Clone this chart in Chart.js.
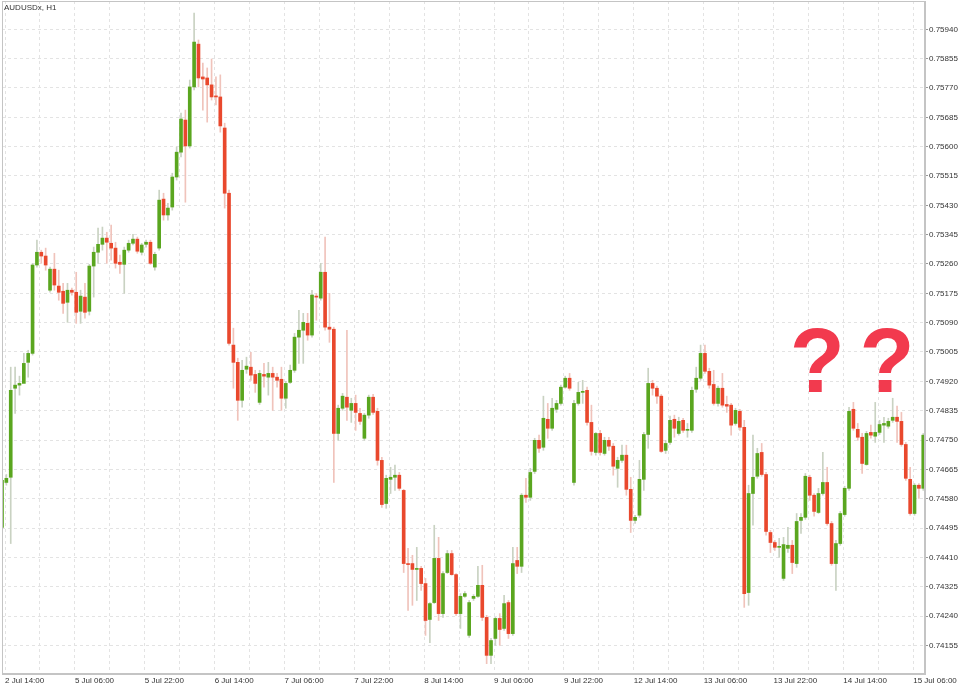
<!DOCTYPE html>
<html>
<head>
<meta charset="utf-8">
<script src="https://cdn.jsdelivr.net/npm/chart.js@4.4.1/dist/chart.umd.min.js"></script>
<style>
  html, body { margin: 0; padding: 0; background: #fff; }
  #chart { display: block; }
</style>
</head>
<body>
<canvas id="chart" width="960" height="686"></canvas>
<script>
// AUDUSDx, H1 - one entry per hourly bar
const tickLabels = ["2 Jul 14:00", "5 Jul 06:00", "5 Jul 22:00", "6 Jul 14:00", "7 Jul 06:00", "7 Jul 22:00",
  "8 Jul 14:00", "9 Jul 06:00", "9 Jul 22:00", "12 Jul 14:00", "13 Jul 06:00", "13 Jul 22:00",
  "14 Jul 14:00", "15 Jul 06:00"];

const priceLabels = [0.74155, 0.74240, 0.74325, 0.74410, 0.74495, 0.74580, 0.74665, 0.74750, 0.74835,
  0.74920, 0.75005, 0.75090, 0.75175, 0.75260, 0.75345, 0.75430, 0.75515, 0.75600, 0.75685, 0.75770,
  0.75855, 0.75940];

const opens = [
  0.74497, 0.74627, 0.74642, 0.74900, 0.74909, 0.74914, 0.74975, 0.75001, 0.75257, 0.75294,
  0.75283, 0.75184, 0.75245, 0.75196, 0.75181, 0.75149, 0.75184, 0.75178, 0.75123, 0.75164,
  0.75123, 0.75254, 0.75294, 0.75317, 0.75335, 0.75320, 0.75306, 0.75265, 0.75259, 0.75300,
  0.75320, 0.75332, 0.75294, 0.75317, 0.75323, 0.75251, 0.75306, 0.75448, 0.75402, 0.75425,
  0.75512, 0.75584, 0.75677, 0.75602, 0.75773, 0.75897, 0.75802, 0.75799, 0.75779, 0.75747,
  0.75744, 0.75654, 0.75465, 0.75025, 0.74975, 0.74865, 0.74955, 0.74961, 0.74940, 0.74859,
  0.74940, 0.74932, 0.74943, 0.74932, 0.74926, 0.74871, 0.74917, 0.74952, 0.75048, 0.75068,
  0.75088, 0.75054, 0.75167, 0.75161, 0.75236, 0.75077, 0.75071, 0.74769, 0.74842, 0.74874,
  0.74836, 0.74856, 0.74827, 0.74755, 0.74822, 0.74874, 0.74833, 0.74691, 0.74566, 0.74636,
  0.74642, 0.74648, 0.74604, 0.74392, 0.74392, 0.74375, 0.74378, 0.74334, 0.74230, 0.74279,
  0.74407, 0.74247, 0.74366, 0.74421, 0.74360, 0.74247, 0.74297, 0.74184, 0.74291, 0.74297,
  0.74329, 0.74236, 0.74126, 0.74175, 0.74233, 0.74204, 0.74279, 0.74189, 0.74401, 0.74384,
  0.74590, 0.74584, 0.74659, 0.74749, 0.74729, 0.74810, 0.74784, 0.74839, 0.74856, 0.74903,
  0.74929, 0.74627, 0.74856, 0.74888, 0.74894, 0.74801, 0.74714, 0.74769, 0.74711, 0.74749,
  0.74732, 0.74668, 0.74691, 0.74706, 0.74607, 0.74517, 0.74532, 0.74636, 0.74766, 0.74914,
  0.74900, 0.74877, 0.74720, 0.74743, 0.74810, 0.74769, 0.74807, 0.74778, 0.74778, 0.74897,
  0.74929, 0.75001, 0.74949, 0.74911, 0.74856, 0.74900, 0.74853, 0.74851, 0.74798, 0.74833,
  0.74787, 0.74308, 0.74595, 0.74645, 0.74714, 0.74650, 0.74482, 0.74453, 0.74439, 0.74349,
  0.74436, 0.74445, 0.74392, 0.74517, 0.74526, 0.74642, 0.74590, 0.74540, 0.74595, 0.74627,
  0.74508, 0.74392, 0.74450, 0.74534, 0.74610, 0.74839, 0.74781, 0.74758, 0.74679, 0.74772,
  0.74761, 0.74772, 0.74793, 0.74790, 0.74807, 0.74816, 0.74804, 0.74737, 0.74636, 0.74537,
  0.74619, 0.74610
];

const highs = [
  0.74645, 0.74650, 0.74961, 0.74961, 0.74935, 0.75001, 0.75010, 0.75262, 0.75329, 0.75300,
  0.75306, 0.75251, 0.75291, 0.75242, 0.75204, 0.75204, 0.75190, 0.75236, 0.75184, 0.75204,
  0.75259, 0.75309, 0.75364, 0.75367, 0.75352, 0.75373, 0.75323, 0.75286, 0.75309, 0.75329,
  0.75346, 0.75338, 0.75320, 0.75329, 0.75329, 0.75294, 0.75474, 0.75465, 0.75436, 0.75523,
  0.75599, 0.75697, 0.75706, 0.75793, 0.75987, 0.75909, 0.75842, 0.75828, 0.75854, 0.75802,
  0.75808, 0.75668, 0.75474, 0.75074, 0.74987, 0.74981, 0.74990, 0.75004, 0.74952, 0.74952,
  0.74972, 0.74975, 0.74961, 0.74943, 0.74961, 0.74920, 0.74967, 0.75059, 0.75126, 0.75117,
  0.75117, 0.75184, 0.75175, 0.75262, 0.75338, 0.75175, 0.75077, 0.74851, 0.74885, 0.75068,
  0.74871, 0.74880, 0.74842, 0.74827, 0.74880, 0.74882, 0.74842, 0.74700, 0.74648, 0.74671,
  0.74677, 0.74656, 0.74607, 0.74436, 0.74416, 0.74439, 0.74384, 0.74349, 0.74279, 0.74503,
  0.74468, 0.74369, 0.74430, 0.74430, 0.74363, 0.74305, 0.74311, 0.74285, 0.74302, 0.74384,
  0.74387, 0.74242, 0.74175, 0.74236, 0.74247, 0.74300, 0.74285, 0.74439, 0.74439, 0.74595,
  0.74639, 0.74668, 0.74755, 0.74764, 0.74877, 0.74856, 0.74871, 0.74865, 0.74909, 0.74935,
  0.74943, 0.74865, 0.74917, 0.74923, 0.74903, 0.74851, 0.74772, 0.74778, 0.74758, 0.74758,
  0.74740, 0.74700, 0.74735, 0.74735, 0.74642, 0.74532, 0.74691, 0.74772, 0.74958, 0.74923,
  0.74906, 0.74882, 0.74749, 0.74819, 0.74822, 0.74816, 0.74813, 0.74798, 0.74903, 0.74961,
  0.75025, 0.75025, 0.74958, 0.74952, 0.74906, 0.74943, 0.74877, 0.74856, 0.74842, 0.74839,
  0.74807, 0.74619, 0.74764, 0.74726, 0.74740, 0.74656, 0.74488, 0.74459, 0.74465, 0.74468,
  0.74497, 0.74459, 0.74537, 0.74537, 0.74653, 0.74648, 0.74595, 0.74610, 0.74714, 0.74671,
  0.74514, 0.74459, 0.74543, 0.74616, 0.74845, 0.74859, 0.74798, 0.74769, 0.74775, 0.74793,
  0.74859, 0.74807, 0.74816, 0.74813, 0.74871, 0.74848, 0.74830, 0.74743, 0.74671, 0.74624,
  0.74624, 0.74769
];

const lows = [
  0.74488, 0.74619, 0.74450, 0.74827, 0.74880, 0.74932, 0.74932, 0.74996, 0.75251, 0.75262,
  0.75242, 0.75178, 0.75184, 0.75155, 0.75117, 0.75091, 0.75170, 0.75088, 0.75088, 0.75103,
  0.75112, 0.75164, 0.75262, 0.75300, 0.75262, 0.75271, 0.75248, 0.75233, 0.75175, 0.75294,
  0.75315, 0.75291, 0.75286, 0.75309, 0.75259, 0.75242, 0.75300, 0.75387, 0.75387, 0.75416,
  0.75503, 0.75570, 0.75439, 0.75596, 0.75764, 0.75773, 0.75706, 0.75671, 0.75735, 0.75721,
  0.75642, 0.75422, 0.75025, 0.74900, 0.74807, 0.74845, 0.74943, 0.74923, 0.74888, 0.74853,
  0.74903, 0.74880, 0.74836, 0.74903, 0.74836, 0.74842, 0.74914, 0.74946, 0.74972, 0.74972,
  0.75039, 0.75048, 0.75097, 0.75155, 0.75068, 0.75033, 0.74627, 0.74749, 0.74836, 0.74807,
  0.74801, 0.74778, 0.74795, 0.74749, 0.74813, 0.74824, 0.74677, 0.74555, 0.74552, 0.74595,
  0.74604, 0.74604, 0.74366, 0.74256, 0.74271, 0.74285, 0.74314, 0.74184, 0.74163, 0.74276,
  0.74227, 0.74236, 0.74363, 0.74358, 0.74242, 0.74204, 0.74294, 0.74178, 0.74285, 0.74294,
  0.74227, 0.74102, 0.74102, 0.74155, 0.74155, 0.74198, 0.74175, 0.74184, 0.74363, 0.74366,
  0.74569, 0.74575, 0.74653, 0.74714, 0.74720, 0.74755, 0.74778, 0.74830, 0.74851, 0.74900,
  0.74894, 0.74619, 0.74851, 0.74856, 0.74793, 0.74706, 0.74706, 0.74706, 0.74706, 0.74720,
  0.74648, 0.74613, 0.74685, 0.74590, 0.74482, 0.74508, 0.74526, 0.74604, 0.74726, 0.74880,
  0.74856, 0.74714, 0.74711, 0.74737, 0.74758, 0.74764, 0.74772, 0.74758, 0.74772, 0.74888,
  0.74923, 0.74943, 0.74900, 0.74851, 0.74848, 0.74845, 0.74830, 0.74764, 0.74793, 0.74778,
  0.74265, 0.74271, 0.74503, 0.74639, 0.74645, 0.74474, 0.74424, 0.74430, 0.74410, 0.74343,
  0.74424, 0.74363, 0.74381, 0.74479, 0.74520, 0.74575, 0.74529, 0.74537, 0.74590, 0.74503,
  0.74387, 0.74314, 0.74445, 0.74529, 0.74604, 0.74778, 0.74749, 0.74653, 0.74677, 0.74755,
  0.74743, 0.74766, 0.74743, 0.74784, 0.74801, 0.74743, 0.74732, 0.74633, 0.74532, 0.74532,
  0.74581, 0.74604
];

const closes = [
  0.74633, 0.74639, 0.74894, 0.74909, 0.74914, 0.74972, 0.75001, 0.75257, 0.75294, 0.75283,
  0.75257, 0.75245, 0.75199, 0.75178, 0.75146, 0.75184, 0.75178, 0.75120, 0.75167, 0.75120,
  0.75254, 0.75294, 0.75317, 0.75335, 0.75323, 0.75306, 0.75262, 0.75259, 0.75300, 0.75320,
  0.75332, 0.75297, 0.75315, 0.75323, 0.75262, 0.75288, 0.75445, 0.75402, 0.75422, 0.75512,
  0.75584, 0.75680, 0.75602, 0.75773, 0.75903, 0.75799, 0.75796, 0.75779, 0.75744, 0.75744,
  0.75660, 0.75465, 0.75030, 0.74975, 0.74865, 0.74952, 0.74964, 0.74938, 0.74914, 0.74943,
  0.74935, 0.74943, 0.74932, 0.74923, 0.74871, 0.74914, 0.74952, 0.75048, 0.75068, 0.75091,
  0.75054, 0.75170, 0.75164, 0.75236, 0.75077, 0.75071, 0.74769, 0.74842, 0.74877, 0.74845,
  0.74856, 0.74830, 0.74804, 0.74822, 0.74874, 0.74830, 0.74691, 0.74563, 0.74639, 0.74642,
  0.74648, 0.74610, 0.74392, 0.74389, 0.74375, 0.74378, 0.74334, 0.74227, 0.74276, 0.74407,
  0.74247, 0.74363, 0.74421, 0.74360, 0.74247, 0.74297, 0.74305, 0.74279, 0.74297, 0.74329,
  0.74236, 0.74126, 0.74169, 0.74233, 0.74201, 0.74276, 0.74189, 0.74392, 0.74384, 0.74590,
  0.74584, 0.74656, 0.74749, 0.74726, 0.74813, 0.74784, 0.74842, 0.74856, 0.74903, 0.74929,
  0.74900, 0.74856, 0.74888, 0.74891, 0.74801, 0.74717, 0.74769, 0.74714, 0.74749, 0.74732,
  0.74674, 0.74691, 0.74706, 0.74607, 0.74517, 0.74526, 0.74636, 0.74766, 0.74914, 0.74900,
  0.74877, 0.74717, 0.74740, 0.74807, 0.74784, 0.74804, 0.74778, 0.74781, 0.74894, 0.74929,
  0.75001, 0.74949, 0.74909, 0.74856, 0.74900, 0.74851, 0.74848, 0.74793, 0.74836, 0.74787,
  0.74305, 0.74595, 0.74642, 0.74711, 0.74650, 0.74485, 0.74453, 0.74439, 0.74442, 0.74447,
  0.74445, 0.74395, 0.74514, 0.74526, 0.74645, 0.74590, 0.74543, 0.74595, 0.74627, 0.74508,
  0.74392, 0.74450, 0.74537, 0.74610, 0.74833, 0.74784, 0.74758, 0.74682, 0.74769, 0.74764,
  0.74772, 0.74795, 0.74798, 0.74804, 0.74816, 0.74804, 0.74737, 0.74639, 0.74537, 0.74619,
  0.74610, 0.74764
];

const UP = "#5aa61f";
const DOWN = "#e9482d";
const UP_WICK = "#c9d2c2";
const DOWN_WICK = "#f0c3bb";
const GRID = "#e3e3e3";
const FRAME = "#c4c4c4";
const TEXT = "#333333";

const isUp = opens.map((o, i) => closes[i] >= o);
const bodies = opens.map((o, i) => ({ x: i, y: [o, closes[i]] }));
const wicks = lows.map((l, i) => ({ x: i, y: [l, highs[i]] }));

// vertical grid every 8 bars, label on every second line
const gridSteps = [];
for (let i = 0; i < tickLabels.length * 2 - 1; i++) gridSteps.push(0.7 + i * 8);

Chart.defaults.font.family = "'Liberation Sans', Arial, sans-serif";
Chart.defaults.font.size = 8;
Chart.defaults.color = TEXT;

const overlay = {
  id: "overlay",
  afterDraw(chart) {
    const { ctx, chartArea: a, scales } = chart;
    ctx.save();
    ctx.strokeStyle = FRAME;
    ctx.lineWidth = 1;
    ctx.strokeRect(Math.round(a.left) + 0.5, Math.round(a.top) + 0.5,
      Math.round(a.right - a.left) - 1, Math.round(a.bottom - a.top) - 1);

    ctx.fillStyle = TEXT;
    ctx.font = "8px 'Liberation Sans', Arial, sans-serif";
    ctx.textBaseline = "top";
    ctx.fillText("AUDUSDx, H1", a.left + 2, a.top + 3);

    ctx.fillStyle = "#f23a4e";
    ctx.font = "bold 90px 'Liberation Sans', Arial, sans-serif";
    ctx.textAlign = "center";
    ctx.textBaseline = "alphabetic";
    const base = scales.y.getPixelForValue(0.74888);
    ctx.fillText("?", scales.x.getPixelForValue(186.7), base);
    ctx.fillText("?", scales.x.getPixelForValue(202.7), base);
    ctx.restore();
  }
};

new Chart("chart", {
  type: "bar",
  data: {
    datasets: [
      {
        label: "body",
        data: bodies,
        backgroundColor: isUp.map((u) => (u ? UP : DOWN)),
        barThickness: 3,
        minBarLength: 1,
        grouped: false,
      },
      {
        label: "wick",
        data: wicks,
        backgroundColor: isUp.map((u) => (u ? UP_WICK : DOWN_WICK)),
        barThickness: 1,
        grouped: false,
      },
    ],
  },
  options: {
    responsive: false,
    animation: false,
    layout: { padding: { top: 1, left: 2, right: 0, bottom: 0 } },
    plugins: {
      legend: { display: false },
      tooltip: { enabled: false },
    },
    scales: {
      x: {
        type: "linear",
        min: 0,
        max: 211.4,
        offset: false,
        afterBuildTicks: (scale) => {
          scale.ticks = gridSteps.map((v) => ({ value: v }));
        },
        afterFit: (scale) => {
          scale.height = 12;
          scale.paddingLeft = 0;
        },
        ticks: {
          autoSkip: false,
          maxRotation: 0,
          align: "start",
          padding: 2,
          callback: (value, index) => (index % 2 === 0 ? tickLabels[index / 2] : ""),
        },
        grid: { color: GRID, drawTicks: false, offset: false },
        border: { color: FRAME, dash: [3, 3] },
      },
      y: {
        position: "right",
        min: 0.74072,
        max: 0.76022,
        afterBuildTicks: (scale) => {
          scale.ticks = priceLabels.map((v) => ({ value: v }));
        },
        afterFit: (scale) => {
          scale.width = 35;
          scale.paddingTop = 0;
          scale.paddingBottom = 0;
        },
        ticks: {
          padding: 1,
          callback: (value) => value.toFixed(5),
        },
        grid: { color: GRID, tickLength: 3, tickColor: "#999999", tickBorderDash: [] },
        border: { color: FRAME, dash: [3, 3] },
      },
    },
  },
  plugins: [overlay],
});
</script>
</body>
</html>
